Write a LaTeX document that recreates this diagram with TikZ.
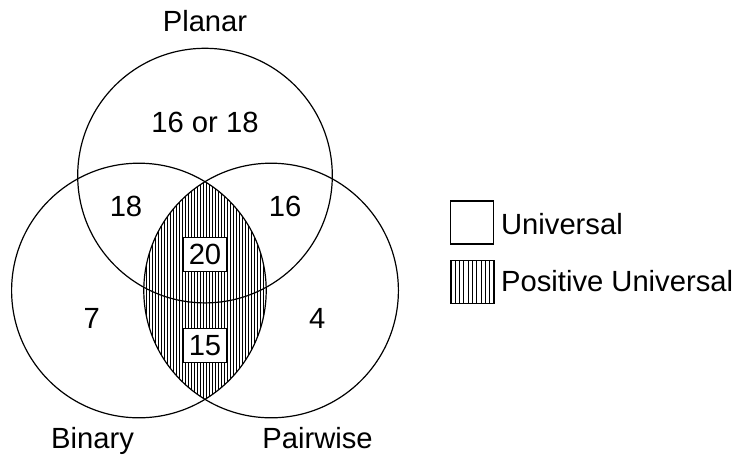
\documentclass[tikz,border=0pt]{standalone}
\usepackage{fontspec}
\setmainfont{Liberation Sans}
\begin{document}
\begin{tikzpicture}[x=1pt,y=-1pt,line width=1.2pt,
  lbl/.style={anchor=base,inner sep=0pt,font=\fontsize{29.2}{34}\selectfont},
  numbox/.style={draw,fill=white,minimum width=44pt,minimum height=34pt,inner sep=0pt,font=\fontsize{29.2}{34}\selectfont},
  legbox/.style={draw,minimum width=43pt,minimum height=43pt,inner sep=0pt},
  hatch/.style={line width=0.95pt},
  setcircle/.style={line width=1.2pt}]
\useasboundingbox (0,0) rectangle (738,456);
\coordinate (cT) at (205,175.6);
\coordinate (cL) at (138.9,290.5);
\coordinate (cR) at (271.1,290.5);
% hatched lens
\begin{scope}
  \clip (cL) circle[radius=127.3pt];
  \clip (cR) circle[radius=127.3pt];
  \foreach \x in {140,143,...,272} \draw[hatch] (\x,170) -- (\x,410);
\end{scope}
% circles
\draw[setcircle] (cT) circle[radius=127.3pt];
\draw[setcircle] (cL) circle[radius=127.3pt];
\draw[setcircle] (cR) circle[radius=127.3pt];
% number boxes
\node[numbox] (b20) at (205,254.5) {20};
\node[numbox] (b15) at (205,345.5) {15};
% region labels
\node[lbl] (planar) at (205,31.7) {Planar};
\node[lbl] (pl) at (205,132.7) {16 or 18};
\node[lbl] (pb) at (126,216.7) {18};
\node[lbl] (pp) at (285,216.7) {16};
\node[lbl] (bo) at (91.7,328.3) {7};
\node[lbl] (po) at (317.3,328.3) {4};
\node[lbl] (binary) at (92.5,448.3) {Binary};
\node[lbl] (pairwise) at (317.5,448.3) {Pairwise};
% legend
\node[legbox] (leg1) at (472,222.5) {};
\begin{scope}
  \clip (450.5,260.5) rectangle (494.5,303.5);
  \foreach \i in {1,...,9} \draw[hatch] (450.7+\i*4.36,258) -- (450.7+\i*4.36,306);
\end{scope}
\node[legbox] (leg2) at (472.5,282) {};
\node[lbl,anchor=base west] (tU) at (500.5,234) {Universal};
\node[lbl,anchor=base west] (tPU) at (500.5,291.7) {Positive Universal};
\end{tikzpicture}
\end{document}
